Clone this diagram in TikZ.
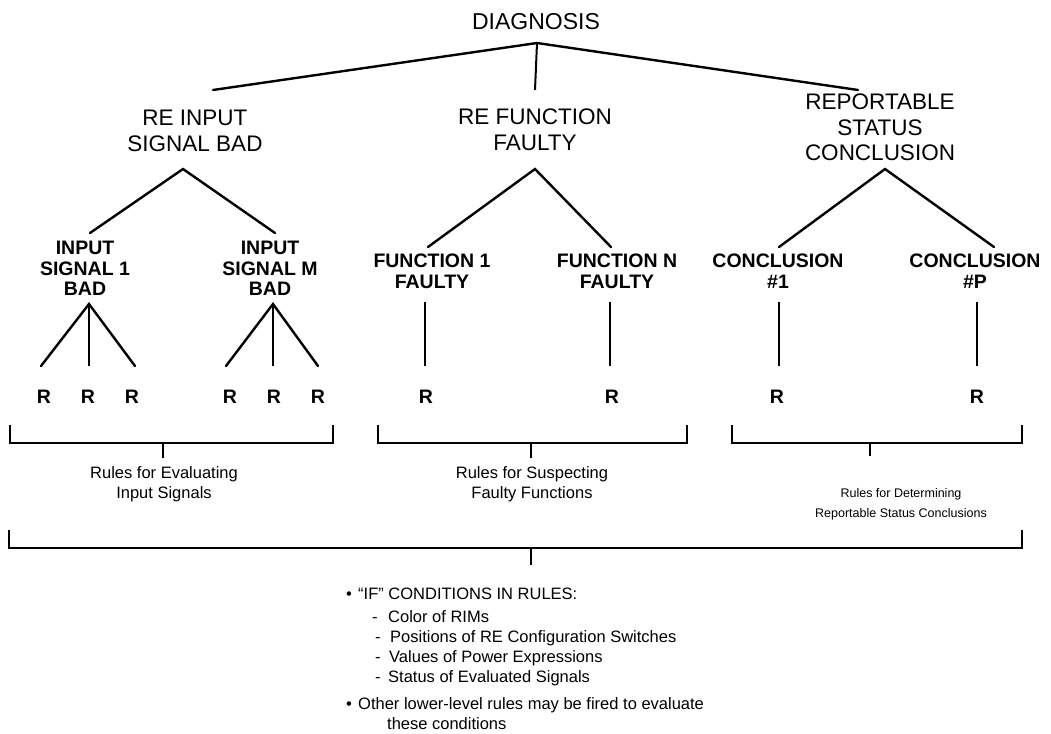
\documentclass[tikz,border=0pt]{standalone}
\usepackage{fontspec}
\setmainfont{Liberation Sans}
\begin{document}
\begin{tikzpicture}[x=1pt,y=-1pt,
  every node/.style={inner sep=0pt, anchor=north, align=center},
  topnode/.style={font=\fontsize{23}{26}\selectfont},
  groupnode/.style={font=\fontsize{22.5}{25.5}\selectfont},
  itemnode/.style={font=\fontsize{19.5}{20.5}\selectfont\bfseries},
  rulenode/.style={font=\fontsize{19.5}{22}\selectfont\bfseries},
  caption/.style={font=\fontsize{16.5}{20.5}\selectfont},
  smallcaption/.style={font=\fontsize{12.5}{20}\selectfont},
  notes/.style={font=\fontsize{16.5}{20}\selectfont, anchor=north west, align=left},
  branch/.style={line width=2.4pt, line cap=round},
  stem/.style={line width=2pt},
  bracket/.style={line width=2pt}
]
\useasboundingbox (0,0) rectangle (1051,733);

% ---- tree labels ----
\node[topnode]   (diag)    at (536,13)  {DIAGNOSIS};
\node[groupnode] (reinput) at (195,110) {RE INPUT\\SIGNAL BAD};
\node[groupnode] (refunc)  at (535,109) {RE FUNCTION\\FAULTY};
\node[groupnode] (report)  at (880,94)  {REPORTABLE\\STATUS\\CONCLUSION};

\node[itemnode] (sig1) at (85,241)  {INPUT\\SIGNAL 1\\BAD};
\node[itemnode] (sigM) at (270,241) {INPUT\\SIGNAL M\\BAD};
\node[itemnode] (fun1) at (432,254) {FUNCTION 1\\FAULTY};
\node[itemnode] (funN) at (617,254) {FUNCTION N\\FAULTY};
\node[itemnode] (con1) at (778,254) {CONCLUSION\\\#1};
\node[itemnode] (conP) at (975,254) {CONCLUSION\\\#P};

% ---- rules (leaves) ----
\foreach \name/\x in {ra/44, rb/88, rc/132, rd/230, re/274, rf/318,
                      rg/426, rh/612, ri/777, rj/977}
  \node[rulenode] (\name) at (\x,390) {R};

% ---- branch points ----
\coordinate (diag-fork)    at (537,43);
\coordinate (reinput-top)  at (213,90);
\coordinate (refunc-top)   at (535,90);
\coordinate (report-top)   at (858,90);

\coordinate (reinput-fork) at (183,169);
\coordinate (refunc-fork)  at (535,169);
\coordinate (report-fork)  at (885,169);
\coordinate (sig1-top) at (90,233);
\coordinate (sigM-top) at (275,233);
\coordinate (fun1-top) at (428,247);
\coordinate (funN-top) at (611,247);
\coordinate (con1-top) at (779,247);
\coordinate (conP-top) at (994,247);

\coordinate (sig1-fork) at (89,304);
\coordinate (sigM-fork) at (273,304);
\coordinate (fun1-foot) at (425,302);
\coordinate (funN-foot) at (610,302);
\coordinate (con1-foot) at (779,302);
\coordinate (conP-foot) at (977,302);

\foreach \name/\x in {ra/41, rb/89, rc/135, rd/226, re/273, rf/318,
                      rg/425, rh/610, ri/779, rj/977}
  \coordinate (\name-top) at (\x,366);

% ---- tree connectors ----
\draw[branch] (reinput-top) -- (diag-fork) -- (report-top);
\draw[stem]   (diag-fork) -- (refunc-top);

\draw[branch] (sig1-top) -- (reinput-fork) -- (sigM-top);
\draw[branch] (fun1-top) -- (refunc-fork) -- (funN-top);
\draw[branch] (con1-top) -- (report-fork) -- (conP-top);

\draw[branch] (ra-top) -- (sig1-fork) -- (rc-top);
\draw[stem]   (sig1-fork) -- (rb-top);
\draw[branch] (rd-top) -- (sigM-fork) -- (rf-top);
\draw[stem]   (sigM-fork) -- (re-top);

\draw[stem] (fun1-foot) -- (rg-top);
\draw[stem] (funN-foot) -- (rh-top);
\draw[stem] (con1-foot) -- (ri-top);
\draw[stem] (conP-foot) -- (rj-top);

% ---- rule-group brackets ----
\draw[bracket] (10,425) -- (10,443) -- (333,443) -- (333,425);
\draw[bracket] (378,425) -- (378,443) -- (687,443) -- (687,425);
\draw[bracket] (732,425) -- (732,443) -- (1022,443) -- (1022,425);

\coordinate (grp1-tick) at (163,443);
\coordinate (grp2-tick) at (531,443);
\coordinate (grp3-tick) at (870,443);
\coordinate (grp1-tip) at (163,458);
\coordinate (grp2-tip) at (531,458);
\coordinate (grp3-tip) at (870,456);
\draw[stem] (grp1-tick) -- (grp1-tip);
\draw[stem] (grp2-tick) -- (grp2-tip);
\draw[stem] (grp3-tick) -- (grp3-tip);

\node[caption] (grp1) at (164,466) {Rules for Evaluating\\Input Signals};
\node[caption] (grp2) at (532,466) {Rules for Suspecting\\Faulty Functions};
\node[smallcaption] (grp3) at (901,488) {Rules for Determining\\Reportable Status Conclusions};

% ---- overall bracket ----
\draw[bracket] (9,530) -- (9,548) -- (1022,548) -- (1022,530);
\coordinate (all-tick) at (531,548);
\coordinate (all-tip)  at (531,565);
\draw[stem] (all-tick) -- (all-tip);

\node[notes] (conds) at (346,588) {%
  \makebox[12pt][l]{\textbullet}\textquotedblleft IF\textquotedblright{} CONDITIONS IN RULES:\\[3pt]
  \hspace*{26pt}\makebox[16pt][l]{-}Color of RIMs\\
  \hspace*{29pt}\makebox[15pt][l]{-}Positions of RE Configuration Switches\\
  \hspace*{29pt}\makebox[14pt][l]{-}Values of Power Expressions\\
  \hspace*{29pt}\makebox[13pt][l]{-}Status of Evaluated Signals\\[7pt]
  \makebox[12pt][l]{\textbullet}Other lower-level rules may be fired to evaluate\\
  \hspace*{41pt}these conditions};
\end{tikzpicture}
\end{document}
